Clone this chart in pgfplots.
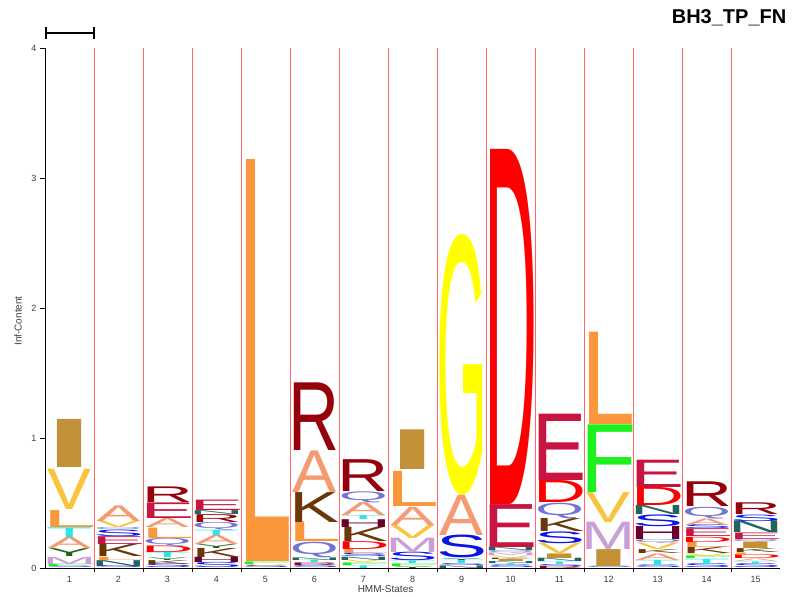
\documentclass[border=0pt]{standalone}
\usepackage{pgfplots}
\pgfplotsset{compat=1.18}
\usepackage{pgfplotstable}
\usepackage{fontspec}
\setmainfont{Liberation Sans}

\definecolor{aaA}{RGB}{245,155,115}
\definecolor{aaC}{RGB}{240,220,120}
\definecolor{aaD}{RGB}{255,0,0}
\definecolor{aaE}{RGB}{200,20,65}
\definecolor{aaF}{RGB}{30,240,30}
\definecolor{aaG}{RGB}{255,255,0}
\definecolor{aaH}{RGB}{105,0,45}
\definecolor{aaI}{RGB}{195,145,55}
\definecolor{aaK}{RGB}{105,55,10}
\definecolor{aaL}{RGB}{250,150,60}
\definecolor{aaM}{RGB}{200,160,215}
\definecolor{aaN}{RGB}{35,100,95}
\definecolor{aaP}{RGB}{255,215,0}
\definecolor{aaQ}{RGB}{115,115,210}
\definecolor{aaR}{RGB}{150,0,10}
\definecolor{aaS}{RGB}{10,20,230}
\definecolor{aaT}{RGB}{40,230,230}
\definecolor{aaV}{RGB}{250,195,60}
\definecolor{aaW}{RGB}{0,130,0}
\definecolor{aaY}{RGB}{30,100,20}
\definecolor{labgray}{RGB}{60,60,60}

% advance widths so that the ink is about 44pt wide
\expandafter\def\csname lwA\endcsname{44pt}
\expandafter\def\csname lwC\endcsname{49pt}
\expandafter\def\csname lwD\endcsname{53pt}
\expandafter\def\csname lwE\endcsname{54pt}
\expandafter\def\csname lwF\endcsname{56pt}
\expandafter\def\csname lwG\endcsname{51pt}
\expandafter\def\csname lwH\endcsname{56pt}
\expandafter\def\csname lwI\endcsname{72pt}
\expandafter\def\csname lwK\endcsname{50pt}
\expandafter\def\csname lwL\endcsname{54pt}
\expandafter\def\csname lwM\endcsname{54pt}
\expandafter\def\csname lwN\endcsname{56pt}
\expandafter\def\csname lwP\endcsname{54pt}
\expandafter\def\csname lwQ\endcsname{49pt}
\expandafter\def\csname lwR\endcsname{51pt}
\expandafter\def\csname lwS\endcsname{51pt}
\expandafter\def\csname lwT\endcsname{47pt}
\expandafter\def\csname lwV\endcsname{44pt}
\expandafter\def\csname lwW\endcsname{44pt}
\expandafter\def\csname lwY\endcsname{44pt}

\newcommand\letterbox{\pgfmathsetmacro\hpt{\hh*130}%
  \resizebox*{\csname lw\pgfplotspointmeta\endcsname}{\hpt pt}{\color{aa\pgfplotspointmeta}\pgfplotspointmeta}}

\pgfplotstableread{
x y h L
1 0.000 0.012 S
1 0.012 0.018 F
1 0.030 0.055 M
1 0.090 0.060 Y
1 0.150 0.085 A
1 0.235 0.075 T
1 0.310 0.130 L
1 0.450 0.310 V
1 0.770 0.370 I
2 0.000 0.015 S
2 0.015 0.045 N
2 0.060 0.025 L
2 0.085 0.095 K
2 0.180 0.060 E
2 0.240 0.050 S
2 0.290 0.020 Q
2 0.310 0.050 V
2 0.360 0.120 A
3 0.000 0.030 S
3 0.030 0.030 K
3 0.060 0.020 Y
3 0.080 0.040 T
3 0.120 0.050 D
3 0.170 0.060 Q
3 0.230 0.080 L
3 0.310 0.070 A
3 0.380 0.120 E
3 0.500 0.120 R
4 0.000 0.040 S
4 0.040 0.040 H
4 0.080 0.070 K
4 0.150 0.030 Y
4 0.180 0.070 A
4 0.250 0.040 T
4 0.290 0.060 Q
4 0.350 0.060 R
4 0.410 0.030 N
4 0.440 0.080 E
5 0.000 0.015 S
5 0.015 0.015 V
5 0.030 0.020 F
5 0.050 3.090 L
6 0.000 0.020 S
6 0.020 0.020 R
6 0.040 0.020 T
6 0.060 0.020 N
6 0.080 0.120 Q
6 0.200 0.150 L
6 0.350 0.230 K
6 0.580 0.320 A
6 0.900 0.520 R
7 0.000 0.020 T
7 0.020 0.020 F
7 0.040 0.020 V
7 0.060 0.025 N
7 0.085 0.025 S
7 0.110 0.030 L
7 0.140 0.060 D
7 0.200 0.110 K
7 0.310 0.060 H
7 0.370 0.030 T
7 0.400 0.100 A
7 0.500 0.085 Q
7 0.585 0.245 R
8 0.000 0.015 Y
8 0.015 0.020 F
8 0.035 0.020 T
8 0.055 0.065 S
8 0.120 0.110 M
8 0.230 0.100 V
8 0.330 0.140 A
8 0.470 0.270 L
8 0.755 0.305 I
9 0.000 0.020 N
9 0.020 0.015 S
9 0.035 0.025 T
9 0.060 0.015 Y
9 0.075 0.175 S
9 0.250 0.310 A
9 0.560 2.000 G
10 0.000 0.020 S
10 0.020 0.015 T
10 0.035 0.015 N
10 0.050 0.015 I
10 0.065 0.010 K
10 0.075 0.020 V
10 0.095 0.020 M
10 0.115 0.020 Q
10 0.135 0.025 N
10 0.160 0.330 E
10 0.490 2.730 D
11 0.000 0.015 R
11 0.015 0.015 S
11 0.030 0.020 T
11 0.050 0.025 N
11 0.075 0.035 I
11 0.110 0.080 V
11 0.190 0.090 S
11 0.280 0.100 K
11 0.380 0.120 Q
11 0.500 0.170 D
11 0.670 0.510 E
12 0.000 0.010 S
12 0.010 0.130 I
12 0.140 0.210 M
12 0.350 0.230 V
12 0.580 0.520 F
12 1.100 0.710 L
13 0.000 0.020 S
13 0.020 0.040 T
13 0.060 0.050 A
13 0.110 0.030 K
13 0.140 0.050 V
13 0.190 0.030 Q
13 0.220 0.100 H
13 0.320 0.090 S
13 0.410 0.070 N
13 0.480 0.140 D
13 0.620 0.210 E
14 0.000 0.030 S
14 0.030 0.040 T
14 0.070 0.020 F
14 0.090 0.020 V
14 0.110 0.050 K
14 0.160 0.040 L
14 0.200 0.040 D
14 0.240 0.060 E
14 0.300 0.030 S
14 0.330 0.050 A
14 0.380 0.090 Q
14 0.470 0.190 R
15 0.000 0.030 S
15 0.030 0.020 T
15 0.050 0.020 A
15 0.070 0.030 D
15 0.100 0.020 L
15 0.120 0.030 K
15 0.150 0.050 I
15 0.200 0.020 Q
15 0.220 0.050 E
15 0.270 0.090 N
15 0.360 0.050 S
15 0.410 0.090 R
}\logo

\begin{document}
\begin{tikzpicture}
\begin{axis}[
  x=49pt, y=130pt,
  xmin=0.5, xmax=15.5, ymin=0, ymax=4,
  axis x line*=bottom, axis y line*=left,
  axis line style={black, line width=0.9pt, -},
  clip=false,
  xtick={1,...,15},
  x tick style={draw=none},
  ytick={0,1,2,3,4},
  y tick style={black, line width=0.9pt},
  tick align=outside, major tick length=5pt,
  extra x ticks={1.5,2.5,...,14.5},
  extra x tick labels={},
  extra x tick style={grid=major, major grid style={red!60!white, line width=0.6pt},
     x tick style={draw=black, line width=0.8pt}, major tick length=4pt},
  ticklabel style={font=\fontsize{9}{10}\selectfont, text=labgray},
  /pgf/number format/assume math mode=true,
]
\path (axis cs:-0.418,-0.2077) rectangle (axis cs:15.765,4.369);

\addplot[draw=none, mark=none, point meta=explicit symbolic,
  visualization depends on={\thisrow{h} \as \hh},
  nodes near coords={\letterbox},
  every node near coord/.append style={anchor=south, inner sep=0pt, outer sep=0pt}]
  table[x=x, y=y, meta=L]{\logo};

\addplot[black, line width=1.8pt, |-|] coordinates {(0.5,4.115) (1.52,4.115)};

\node[font=\bfseries\fontsize{20}{23}\selectfont] at (axis cs:14.46,4.23) {BH3\_TP\_FN};
\node[rotate=90, text=labgray, font=\fontsize{10}{11}\selectfont] at (axis cs:-0.05,1.9) {Inf-Content};
\node[text=labgray, font=\fontsize{10}{11}\selectfont] at (axis cs:7.45,-0.165) {HMM-States};
\end{axis}
\end{tikzpicture}
\end{document}
